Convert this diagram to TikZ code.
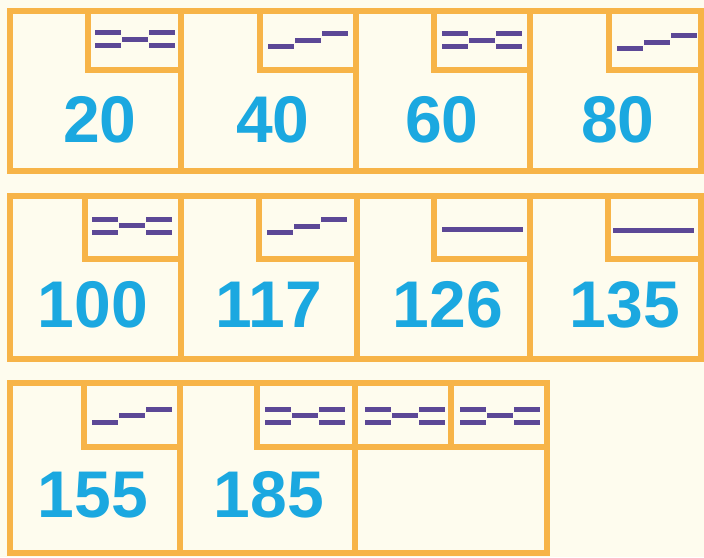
\documentclass[tikz,border=0pt]{standalone}
\usepackage{fontspec}
\setmainfont{Liberation Sans}
\definecolor{bg}{RGB}{254,252,238}
\definecolor{orng}{RGB}{247,180,72}
\definecolor{purp}{RGB}{92,72,150}
\definecolor{cyanc}{RGB}{27,168,224}
\newcommand\barsEq[2]{%
 \fill[purp] ({#1},{#2-9}) rectangle ++(26,5);
 \fill[purp] ({#1},{#2+4}) rectangle ++(26,5);
 \fill[purp] ({#1+27},{#2-2.5}) rectangle ++(26,5);
 \fill[purp] ({#1+54},{#2-9}) rectangle ++(26,5);
 \fill[purp] ({#1+54},{#2+4}) rectangle ++(26,5);}
\newcommand\barsStair[2]{%
 \fill[purp] ({#1},{#2+4}) rectangle ++(26,5);
 \fill[purp] ({#1+27},{#2-2.5}) rectangle ++(26,5);
 \fill[purp] ({#1+54},{#2-9}) rectangle ++(26,5);}
\newcommand\barsFlat[2]{%
 \fill[purp] ({#1},{#2-2.5}) rectangle ++(81,5);}
\begin{document}
\begin{tikzpicture}[x=1pt,y=-1pt,
  frame/.style={draw=orng,line width=5.5pt,line join=miter},
  num/.style={text=cyanc,font=\bfseries\fontsize{66}{66}\selectfont,anchor=base,inner sep=0pt}]
\fill[bg] (0,0) rectangle (704,557);
\useasboundingbox (0,0) rectangle (704,557);
% row 1
\draw[frame] (10,11) rectangle (701,171);
\foreach \x in {181,356,530} \draw[frame] (\x,11) -- (\x,171);
\draw[frame] (88,11) -- (88,70) -- (181,70);
\draw[frame] (260,11) -- (260,70) -- (356,70);
\draw[frame] (434,11) -- (434,70) -- (530,70);
\draw[frame] (609,11) -- (609,70) -- (701,70);
\barsEq{95}{39}
\barsStair{268}{40}
\barsEq{442}{40}
\barsStair{617}{42}
\node[num] (n20) at (100,142) {20};
\node[num] (n40) at (273,142) {40};
\node[num] (n60) at (442,142) {60};
\node[num] (n80) at (618,142) {80};
% row 2
\draw[frame] (10,196) rectangle (701,359);
\foreach \x in {181,357,530} \draw[frame] (\x,196) -- (\x,359);
\draw[frame] (85,196) -- (85,259) -- (181,259);
\draw[frame] (259,196) -- (259,259) -- (357,259);
\draw[frame] (434,196) -- (434,259) -- (530,259);
\draw[frame] (608,196) -- (608,259) -- (701,259);
\barsEq{92}{225.5}
\barsStair{267}{226}
\barsFlat{442}{229}
\barsFlat{613}{230.5}
\node[num] (n100) at (93,327) {100};
\node[num] (n117) at (269,327) {117};
\node[num] (n126) at (448,327) {126};
\node[num] (n135) at (625,327) {135};
% row 3
\draw[frame] (10,383) rectangle (547,553);
\foreach \x in {180,355} \draw[frame] (\x,383) -- (\x,553);
\draw[frame] (84,383) -- (84,447) -- (180,447);
\draw[frame] (257,383) -- (257,447) -- (355,447);
\draw[frame] (355,447) -- (547,447);
\draw[frame] (451,383) -- (451,447);
\barsStair{92}{415.5}
\barsEq{265}{415.5}
\barsEq{365}{415.5}
\barsEq{460}{415.5}
\node[num] (n155) at (93,517) {155};
\node[num] (n185) at (269,517) {185};
\end{tikzpicture}
\end{document}
